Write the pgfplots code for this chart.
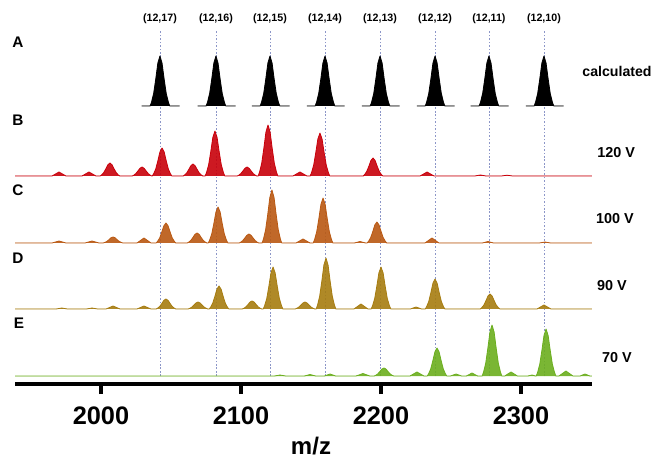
\documentclass[border=0pt]{standalone}
\usepackage{fontspec}
\setmainfont{Liberation Sans}
\usepackage{pgfplots}
\pgfplotsset{compat=1.18}
\definecolor{colB}{RGB}{200,0,10}
\definecolor{colC}{RGB}{185,88,18}
\definecolor{colD}{RGB}{166,124,16}
\definecolor{colE}{RGB}{107,174,30}
\definecolor{dashc}{RGB}{140,150,200}
\pgfplotsset{panel/.style={x=1.05pt,y=0.75pt,xmin=1938.6,xmax=2350.7,ymin=0,ymax=60,hide axis,clip=false,anchor=south west},
 spec/.style={line width=0.6pt,line join=round},
 cspec/.style={line width=0.6pt,line join=round,fill opacity=0.9}}
\begin{document}
\begin{tikzpicture}
% ---------- main axis (drawn first: guide lines lie behind the peaks) ----------
\begin{axis}[at={(0pt,0pt)},anchor=south west,
 x=1.05pt,y=0.75pt,xmin=1938.6,xmax=2350.7,ymin=0,ymax=354,
 axis x line*=bottom,hide y axis,
 x axis line style={line width=3pt,-},
 xtick={2000,2100,2200,2300},
 xtick align=outside,major tick length=7.5pt,
 xtick style={line width=2.6pt,black,solid},
 xticklabel style={font=\fontsize{19}{21}\selectfont\bfseries,yshift=-6pt},
 /pgf/number format/assume math mode=true,
 /pgf/number format/1000 sep={},
 clip=false]
\pgfplotsinvokeforeach{2042.1,2082.1,2120.7,2160,2199.3,2238.6,2277.1,2316.4}{
 \addplot[dashc,line width=0.45pt,dash pattern=on 1.2pt off 1.4pt] coordinates {(#1,8)(#1,354)};
}
\node[font=\fontsize{8}{9}\selectfont\bfseries] at (axis cs:2042.1,365) {(12,17)};
\node[font=\fontsize{8}{9}\selectfont\bfseries] at (axis cs:2082.1,365) {(12,16)};
\node[font=\fontsize{8}{9}\selectfont\bfseries] at (axis cs:2120.7,365) {(12,15)};
\node[font=\fontsize{8}{9}\selectfont\bfseries] at (axis cs:2160,365) {(12,14)};
\node[font=\fontsize{8}{9}\selectfont\bfseries] at (axis cs:2199.3,365) {(12,13)};
\node[font=\fontsize{8}{9}\selectfont\bfseries] at (axis cs:2238.6,365) {(12,12)};
\node[font=\fontsize{8}{9}\selectfont\bfseries] at (axis cs:2277.1,365) {(12,11)};
\node[font=\fontsize{8}{9}\selectfont\bfseries] at (axis cs:2316.4,365) {(12,10)};
\node[font=\fontsize{11.5}{12}\selectfont\bfseries] at (axis cs:1940.6,342) {A};
\node[font=\fontsize{11.5}{12}\selectfont\bfseries] at (axis cs:1940.6,264) {B};
\node[font=\fontsize{11.5}{12}\selectfont\bfseries] at (axis cs:1940.6,194) {C};
\node[font=\fontsize{11.5}{12}\selectfont\bfseries] at (axis cs:1940.6,126) {D};
\node[font=\fontsize{11.5}{12}\selectfont\bfseries] at (axis cs:1941.4,61) {E};
\node[font=\fontsize{10.6}{12}\selectfont\bfseries] at (axis cs:2368.6,313) {calculated};
\node[font=\fontsize{10.8}{12}\selectfont\bfseries] at (axis cs:2367.9,231) {120 V};
\node[font=\fontsize{10.8}{12}\selectfont\bfseries] at (axis cs:2367.1,165) {100 V};
\node[font=\fontsize{10.8}{12}\selectfont\bfseries] at (axis cs:2365,98) {90 V};
\node[font=\fontsize{10.8}{12}\selectfont\bfseries] at (axis cs:2368.6,26) {70 V};
\node[font=\fontsize{18}{20}\selectfont\bfseries,anchor=base,inner sep=0pt] at (axis cs:2150,-70) {m/z};
\coordinate (bbsw) at (axis cs:1927.857,-77);
\coordinate (bbne) at (axis cs:2395,384);
\coordinate (t1) at (axis cs:2000,0);
\coordinate (t2) at (axis cs:2100,0);
\coordinate (t3) at (axis cs:2200,0);
\coordinate (t4) at (axis cs:2300,0);
\end{axis}
% ---------- A: calculated ----------
\begin{axis}[panel,at={(0pt,208.5pt)}]
\addplot[spec,fill=black,draw=black] coordinates {(2029.1,0)(2035.1,0)(2036.1,4)(2037.6,12.5)(2039.1,27)(2040.6,43)(2042.1,50)(2043.6,43)(2045.1,27)(2046.6,12.5)(2048.1,4)(2049.1,0)(2056.1,0)};
\addplot[spec,fill=black,draw=black] coordinates {(2069.1,0)(2075.1,0)(2076.1,4)(2077.6,12.5)(2079.1,27)(2080.6,43)(2082.1,50)(2083.6,43)(2085.1,27)(2086.6,12.5)(2088.1,4)(2089.1,0)(2096.1,0)};
\addplot[spec,fill=black,draw=black] coordinates {(2107.7,0)(2113.7,0)(2114.7,4)(2116.2,12.5)(2117.7,27)(2119.2,43)(2120.7,50)(2122.2,43)(2123.7,27)(2125.2,12.5)(2126.7,4)(2127.7,0)(2134.7,0)};
\addplot[spec,fill=black,draw=black] coordinates {(2147,0)(2153,0)(2154,4)(2155.5,12.5)(2157,27)(2158.5,43)(2160,50)(2161.5,43)(2163,27)(2164.5,12.5)(2166,4)(2167,0)(2174,0)};
\addplot[spec,fill=black,draw=black] coordinates {(2186.3,0)(2192.3,0)(2193.3,4)(2194.8,12.5)(2196.3,27)(2197.8,43)(2199.3,50)(2200.8,43)(2202.3,27)(2203.8,12.5)(2205.3,4)(2206.3,0)(2213.3,0)};
\addplot[spec,fill=black,draw=black] coordinates {(2225.6,0)(2231.6,0)(2232.6,4)(2234.1,12.5)(2235.6,27)(2237.1,43)(2238.6,50)(2240.1,43)(2241.6,27)(2243.1,12.5)(2244.6,4)(2245.6,0)(2252.6,0)};
\addplot[spec,fill=black,draw=black] coordinates {(2264.1,0)(2270.1,0)(2271.1,4)(2272.6,12.5)(2274.1,27)(2275.6,43)(2277.1,50)(2278.6,43)(2280.1,27)(2281.6,12.5)(2283.1,4)(2284.1,0)(2291.1,0)};
\addplot[spec,fill=black,draw=black] coordinates {(2303.4,0)(2309.4,0)(2310.4,4)(2311.9,12.5)(2313.4,27)(2314.9,43)(2316.4,50)(2317.9,43)(2319.4,27)(2320.9,12.5)(2322.4,4)(2323.4,0)(2330.4,0)};
\end{axis}
% ---------- B: 120 V ----------
\begin{axis}[panel,at={(0pt,156pt)}]
\addplot[cspec,fill=colB,draw=colB] coordinates {(1938.6,0)
(1965,0)(1967.5,2)(1970,4)(1972.5,2)(1975,0)
(1986.4,0)(1988.9,2)(1991.4,4)(1993.9,2)(1996.4,0)
(1999.4,0)(2000.4,1)(2001.9,3.3)(2003.4,7)(2004.9,11.2)(2006.4,13)(2007.9,11.2)(2009.4,7)(2010.9,3.3)(2012.4,1)(2013.4,0)
(2022.3,0)(2023.3,0.7)(2024.8,2.3)(2026.3,4.9)(2027.8,7.7)(2029.3,9)(2030.8,7.7)(2032.3,4.9)(2033.8,2.3)(2035.3,0.7)(2036.3,0)
(2036.6,0)(2037.6,2.2)(2039.1,7)(2040.6,15.1)(2042.1,24.1)(2043.6,28)(2045.1,24.1)(2046.6,15.1)(2048.1,7)(2049.6,2.2)(2050.6,0)
(2058.7,0)(2059.7,1)(2061.2,3)(2062.7,6.5)(2064.2,10.3)(2065.7,12)(2067.2,10.3)(2068.7,6.5)(2070.2,3)(2071.7,1)(2072.7,0)
(2074.4,0)(2075.4,3.6)(2076.9,11.3)(2078.4,24.3)(2079.9,38.7)(2081.4,45)(2082.9,38.7)(2084.4,24.3)(2085.9,11.3)(2087.4,3.6)(2088.4,0)
(2097.3,0)(2098.3,0.7)(2099.8,2.3)(2101.3,4.9)(2102.8,7.7)(2104.3,9)(2105.8,7.7)(2107.3,4.9)(2108.8,2.3)(2110.3,0.7)(2111.3,0)
(2112.3,0)(2113.3,4.1)(2114.8,12.8)(2116.3,27.5)(2117.8,43.9)(2119.3,51)(2120.8,43.9)(2122.3,27.5)(2123.8,12.8)(2125.3,4.1)(2126.3,0)
(2137.1,0)(2139.6,2)(2142.1,4)(2144.6,2)(2147.1,0)
(2149.4,0)(2150.4,3.4)(2151.9,10.8)(2153.4,23.2)(2154.9,37)(2156.4,43)(2157.9,37)(2159.4,23.2)(2160.9,10.8)(2162.4,3.4)(2163.4,0)
(2187.3,0)(2188.3,1.4)(2189.8,4.5)(2191.3,9.7)(2192.8,15.5)(2194.3,18)(2195.8,15.5)(2197.3,9.7)(2198.8,4.5)(2200.3,1.4)(2201.3,0)
(2227.9,0)(2230.4,2)(2232.9,4)(2235.4,2)(2237.9,0)
(2267,0)(2271,1)(2275,0)(2286,0)(2290,0.8)(2294,0)
(2350.7,0)};
\end{axis}
% ---------- C: 100 V ----------
\begin{axis}[panel,at={(0pt,105.75pt)}]
\addplot[cspec,fill=colC,draw=colC] coordinates {(1938.6,0)
(1965,0)(1967.5,1)(1970,2)(1972.5,1)(1975,0)
(1988.6,0)(1991.1,1)(1993.6,2)(1996.1,1)(1998.6,0)
(2001.6,0)(2002.6,0.5)(2004.1,1.5)(2005.6,3.2)(2007.1,5.2)(2008.6,6)(2010.1,5.2)(2011.6,3.2)(2013.1,1.5)(2014.6,0.5)(2015.6,0)
(2025.7,0)(2028.2,2.5)(2030.7,5)(2033.2,2.5)(2035.7,0)
(2039.4,0)(2040.4,1.6)(2041.9,5)(2043.4,10.8)(2044.9,17.2)(2046.4,20)(2047.9,17.2)(2049.4,10.8)(2050.9,5)(2052.4,1.6)(2053.4,0)
(2061.6,0)(2062.6,0.8)(2064.1,2.5)(2065.6,5.4)(2067.1,8.6)(2068.6,10)(2070.1,8.6)(2071.6,5.4)(2073.1,2.5)(2074.6,0.8)(2075.6,0)
(2076.6,0)(2077.6,2.9)(2079.1,9)(2080.6,19.4)(2082.1,31)(2083.6,36)(2085.1,31)(2086.6,19.4)(2088.1,9)(2089.6,2.9)(2090.6,0)
(2098.7,0)(2099.7,0.7)(2101.2,2.3)(2102.7,4.9)(2104.2,7.7)(2105.7,9)(2107.2,7.7)(2108.7,4.9)(2110.2,2.3)(2111.7,0.7)(2112.7,0)
(2115.1,0)(2116.1,4.2)(2117.6,13.3)(2119.1,28.6)(2120.6,45.6)(2122.1,53)(2123.6,45.6)(2125.1,28.6)(2126.6,13.3)(2128.1,4.2)(2129.1,0)
(2139.3,0)(2141.8,2)(2144.3,4)(2146.8,2)(2149.3,0)
(2151.6,0)(2152.6,3.6)(2154.1,11.3)(2155.6,24.3)(2157.1,38.7)(2158.6,45)(2160.1,38.7)(2161.6,24.3)(2163.1,11.3)(2164.6,3.6)(2165.6,0)
(2181,0)(2185,1.5)(2189,0)
(2190.1,0)(2191.1,1.7)(2192.6,5.3)(2194.1,11.3)(2195.6,18.1)(2197.1,21)(2198.6,18.1)(2200.1,11.3)(2201.6,5.3)(2203.1,1.7)(2204.1,0)
(2231.4,0)(2233.9,2.5)(2236.4,5)(2238.9,2.5)(2241.4,0)
(2272.4,0)(2276.4,1.5)(2280.4,0)
(2313.1,0)(2317.1,1)(2321.1,0)
(2350.7,0)};
\end{axis}
% ---------- D: 90 V ----------
\begin{axis}[panel,at={(0pt,56.25pt)}]
\addplot[cspec,fill=colD,draw=colD] coordinates {(1938.6,0)
(1968,0)(1972,1)(1976,0)
(1989.6,0)(1993.6,1)(1997.6,0)
(2003.6,0)(2006.1,1.5)(2008.6,3)(2011.1,1.5)(2013.6,0)
(2025.7,0)(2028.2,1.5)(2030.7,3)(2033.2,1.5)(2035.7,0)
(2039.4,0)(2040.4,0.8)(2041.9,2.5)(2043.4,5.4)(2044.9,8.6)(2046.4,10)(2047.9,8.6)(2049.4,5.4)(2050.9,2.5)(2052.4,0.8)(2053.4,0)
(2062.3,0)(2063.3,0.6)(2064.8,1.8)(2066.3,3.8)(2067.8,6)(2069.3,7)(2070.8,6)(2072.3,3.8)(2073.8,1.8)(2075.3,0.6)(2076.3,0)
(2077.3,0)(2078.3,1.8)(2079.8,5.8)(2081.3,12.4)(2082.8,19.8)(2084.3,23)(2085.8,19.8)(2087.3,12.4)(2088.8,5.8)(2090.3,1.8)(2091.3,0)
(2100.9,0)(2101.9,0.6)(2103.4,2)(2104.9,4.3)(2106.4,6.9)(2107.9,8)(2109.4,6.9)(2110.9,4.3)(2112.4,2)(2113.9,0.6)(2114.9,0)
(2115.9,0)(2116.9,3.4)(2118.4,10.5)(2119.9,22.7)(2121.4,36.1)(2122.9,42)(2124.4,36.1)(2125.9,22.7)(2127.4,10.5)(2128.9,3.4)(2129.9,0)
(2138.7,0)(2139.7,0.6)(2141.2,1.8)(2142.7,3.8)(2144.2,6)(2145.7,7)(2147.2,6)(2148.7,3.8)(2150.2,1.8)(2151.7,0.6)(2152.7,0)
(2153.7,0)(2154.7,4.1)(2156.2,12.8)(2157.7,27.5)(2159.2,43.9)(2160.7,51)(2162.2,43.9)(2163.7,27.5)(2165.2,12.8)(2166.7,4.1)(2167.7,0)
(2180.7,0)(2183.2,2.5)(2185.7,5)(2188.2,2.5)(2190.7,0)
(2193,0)(2194,3.4)(2195.5,10.5)(2197,22.7)(2198.5,36.1)(2200,42)(2201.5,36.1)(2203,22.7)(2204.5,10.5)(2206,3.4)(2207,0)
(2221,0)(2225,2)(2229,0)
(2231.6,0)(2232.6,2.4)(2234.1,7.5)(2235.6,16.2)(2237.1,25.8)(2238.6,30)(2240.1,25.8)(2241.6,16.2)(2243.1,7.5)(2244.6,2.4)(2245.6,0)
(2270.9,0)(2271.9,1.2)(2273.4,3.8)(2274.9,8.1)(2276.4,12.9)(2277.9,15)(2279.4,12.9)(2280.9,8.1)(2282.4,3.8)(2283.9,1.2)(2284.9,0)
(2311.4,0)(2313.9,2)(2316.4,4)(2318.9,2)(2321.4,0)
(2350.7,0)};
\end{axis}
% ---------- E: 70 V ----------
\begin{axis}[panel,at={(0pt,6pt)}]
\addplot[cspec,fill=colE,draw=colE] coordinates {(1938.6,0)
(2123.9,0)(2127.9,1)(2131.9,0)
(2145.3,0)(2149.3,1.5)(2153.3,0)
(2159.6,0)(2163.6,2)(2167.6,0)
(2182.1,0)(2184.6,1.2)(2187.1,2.5)(2189.6,1.2)(2192.1,0)
(2195.1,0)(2196.1,0.6)(2197.6,2)(2199.1,4.3)(2200.6,6.9)(2202.1,8)(2203.6,6.9)(2205.1,4.3)(2206.6,2)(2208.1,0.6)(2209.1,0)
(2220.7,0)(2223.2,2)(2225.7,4)(2228.2,2)(2230.7,0)
(2233,0)(2234,2.2)(2235.5,7)(2237,15.1)(2238.5,24.1)(2240,28)(2241.5,24.1)(2243,15.1)(2244.5,7)(2246,2.2)(2247,0)
(2249.6,0)(2253.6,2)(2257.6,0)
(2261,0)(2263,1.5)(2265,3)(2267,1.5)(2269,0)
(2272.3,0)(2273.3,4.1)(2274.8,12.8)(2276.3,27.5)(2277.8,43.9)(2279.3,51)(2280.8,43.9)(2282.3,27.5)(2283.8,12.8)(2285.3,4.1)(2286.3,0)
(2288.4,0)(2290.6,2)(2292.9,4)(2295.2,2)(2297.4,0)
(2304.9,0)(2307.9,1)(2310.4,0)
(2310.9,0)(2311.9,3.8)(2313.4,11.8)(2314.9,25.4)(2316.4,40.4)(2317.9,47)(2319.4,40.4)(2320.9,25.4)(2322.4,11.8)(2323.9,3.8)(2324.9,0)
(2327.1,0)(2329.6,2.5)(2332.1,5)(2334.6,2.5)(2337.1,0)
(2342.2,0)(2345.7,2)(2349.2,0)
(2350.7,0)};
\end{axis}
% tick marks of the m/z axis, below its line
\foreach \t in {t1,t2,t3,t4}{
 \draw[line width=2.6pt,black] (\t) -- ++(0,-7.5pt);
}
\pgfresetboundingbox
\path[use as bounding box] (bbsw) rectangle (bbne);
\end{tikzpicture}
\end{document}
